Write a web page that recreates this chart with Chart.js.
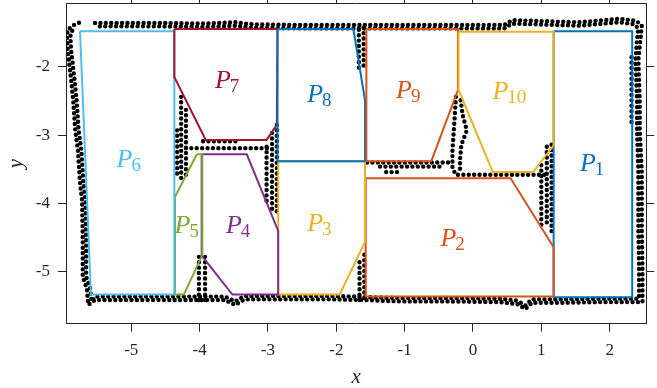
<!DOCTYPE html>
<html>
<head>
<meta charset="utf-8">
<script src="https://cdn.jsdelivr.net/npm/chart.js@4.4.1/dist/chart.umd.min.js"></script>
<style>
  html, body { margin: 0; padding: 0; background: #fff; }
  canvas { display: block; }
</style>
</head>
<body>
<canvas id="roomChart" width="657" height="388"></canvas>
<script>
// ===== AXES =====
let xTicks = [-5, -4, -3, -2, -1, 0, 1, 2];
let yTicks = [-5, -4, -3, -2];
let xRange = [-5.955, 2.536];
let yRange = [-5.756, -1.073];

// ===== ROOM POLYGONS (x, y) =====
let roomNames = ["1", "2", "3", "4", "5", "6", "7", "8", "9", "10"];
let p1 = [[1.18, -1.48], [2.33, -1.48], [2.33, -5.37], [1.18, -5.37]];
let p2 = [[-1.57, -3.63], [0.55, -3.63], [1.18, -4.64], [1.18, -5.36], [-1.57, -5.36]];
let p3 = [[-2.85, -3.38], [-1.58, -3.38], [-1.58, -4.56], [-1.95, -5.33], [-2.85, -5.33]];
let p4 = [[-3.97, -3.28], [-3.31, -3.28], [-2.85, -4.40], [-2.85, -5.33], [-3.52, -5.33], [-3.97, -4.76]];
let p5 = [[-4.04, -3.28], [-3.96, -3.28], [-3.96, -4.75], [-4.23, -5.33], [-4.36, -5.33], [-4.36, -3.90]];
let p6 = [[-5.75, -1.48], [-4.37, -1.48], [-4.37, -5.33], [-5.59, -5.33]];
let p7 = [[-4.37, -1.45], [-2.86, -1.45], [-2.87, -2.85], [-3.02, -3.07], [-3.91, -3.07], [-4.37, -2.15]];
let p8 = [[-2.86, -1.45], [-1.75, -1.45], [-1.58, -2.49], [-1.58, -3.38], [-2.86, -3.38]];
let p9 = [[-1.56, -1.45], [-0.22, -1.45], [-0.22, -2.34], [-0.61, -3.38], [-1.56, -3.38]];
let p10 = [[-0.21, -1.49], [1.18, -1.49], [1.18, -3.15], [0.88, -3.54], [0.29, -3.54], [-0.21, -2.34]];
let rooms = [p1, p2, p3, p4, p5, p6, p7, p8, p9, p10];

// label centres
let labelX = [1.75, -0.29, -2.24, -3.43, -4.18, -5.03, -3.59, -2.24, -0.94, 0.54];
let labelY = [-3.39, -4.49, -4.27, -4.30, -4.30, -3.33, -2.18, -2.39, -2.33, -2.35];

// ===== SCANNED WALL POINTS (traced) =====
// outer band, outside row
let outerWall = [
  [-5.53, -1.36], [-4.58, -1.36], [-3.89, -1.37], [-3.47, -1.35], [-3.26, -1.38], [-2.53, -1.39],
  [-1.73, -1.39], [-0.34, -1.39], [0.46, -1.39], [0.57, -1.32], [1.56, -1.35], [2.14, -1.30],
  [2.39, -1.33], [2.47, -1.40],
  [2.45, -1.61], [2.42, -1.90], [2.44, -2.49], [2.44, -2.93], [2.47, -3.51], [2.47, -4.39],
  [2.48, -4.97], [2.48, -5.44],
  [1.85, -5.44], [1.27, -5.45], [0.86, -5.45], [0.77, -5.54], [0.65, -5.47], [0.39, -5.44],
  [-0.34, -5.43], [-1.07, -5.43], [-1.58, -5.41], [-2.09, -5.40], [-2.53, -5.40], [-3.34, -5.40],
  [-3.48, -5.48], [-3.63, -5.41], [-4.07, -5.41], [-4.73, -5.41], [-5.17, -5.41], [-5.53, -5.41],
  [-5.63, -5.48],
  [-5.65, -5.24], [-5.71, -5.07], [-5.71, -4.53], [-5.72, -3.95], [-5.75, -3.70], [-5.78, -3.22],
  [-5.82, -2.93], [-5.85, -2.49], [-5.88, -2.19], [-5.93, -1.76], [-5.94, -1.55], [-5.93, -1.46],
  [-5.84, -1.39], [-5.75, -1.35]
];
// outer band, inside row
let outerWallB = [
  [-5.50, -1.41], [-4.58, -1.41], [-3.89, -1.42], [-3.47, -1.40], [-3.26, -1.43], [-2.53, -1.44],
  [-1.73, -1.44], [-0.34, -1.44], [0.46, -1.44], [0.57, -1.37], [1.56, -1.40], [2.14, -1.35],
  [2.36, -1.38], [2.42, -1.44],
  [2.40, -1.61], [2.38, -1.90], [2.40, -2.49], [2.40, -2.93], [2.42, -3.51], [2.42, -4.39],
  [2.43, -4.97], [2.43, -5.39],
  [1.85, -5.39], [1.27, -5.40], [0.86, -5.40], [0.77, -5.49], [0.65, -5.42], [0.39, -5.39],
  [-0.34, -5.38], [-1.07, -5.38], [-1.52, -5.37],
  [-1.72, -5.36], [-2.09, -5.35], [-2.53, -5.35], [-3.34, -5.35], [-3.48, -5.43], [-3.63, -5.36],
  [-4.07, -5.36], [-4.73, -5.36], [-5.17, -5.36], [-5.53, -5.36], [-5.58, -5.43],
  [-5.60, -5.24], [-5.66, -5.07], [-5.66, -4.53], [-5.67, -3.95], [-5.70, -3.70], [-5.73, -3.22],
  [-5.77, -2.93], [-5.80, -2.49], [-5.83, -2.19], [-5.88, -1.76], [-5.89, -1.55], [-5.87, -1.48],
  [-5.80, -1.43]
];
let rightInner = [[2.32, -1.86], [2.32, -2.88]];
let spike1a = [[-1.66, -5.41], [-1.66, -4.80]];
let spike1b = [[-1.59, -5.38], [-1.59, -4.71]];
let spike2a = [[-4.01, -5.41], [-4.01, -4.77]];
let spike2b = [[-3.92, -5.41], [-3.92, -4.72]];
let wallA1 = [[-4.33, -2.93], [-4.33, -3.63]];
let wallA2 = [[-4.27, -2.44], [-4.27, -3.63]];
let wallA3 = [[-4.20, -2.63], [-4.20, -3.63]];
let wallB1 = [[-4.20, -3.19], [-3.00, -3.19]];
let wallB2 = [[-3.95, -3.09], [-3.44, -3.09]];
let wallC1 = [[-3.02, -3.17], [-3.02, -4.02]];
let wallC2 = [[-2.94, -2.97], [-2.94, -4.14]];
let wallC3 = [[-2.87, -2.85], [-2.87, -4.14]];
let wallD1 = [[-1.67, -1.46], [-1.67, -2.05]];
let wallD2 = [[-1.60, -1.43], [-1.60, -1.99]];
let wallE1 = [[-1.55, -3.40], [-0.31, -3.40]];
let wallE2 = [[-1.36, -3.46], [-0.49, -3.46]];
let wallE3 = [[-1.27, -3.54], [-1.10, -3.54]];
let wallF1 = [[-0.25, -2.44], [-0.27, -2.78], [-0.30, -3.22], [-0.30, -3.48], [-0.25, -3.58]];
let wallF2 = [[-0.18, -2.49], [-0.15, -2.71], [-0.09, -2.93], [-0.17, -3.14], [-0.19, -3.36], [-0.19, -3.55]];
let wallG = [[-0.22, -3.58], [1.05, -3.58]];
let wallH1 = [[1.00, -3.44], [1.00, -4.31]];
let wallH2 = [[1.08, -3.17], [1.08, -4.35]];
let wallH3 = [[1.15, -3.14], [1.15, -4.42]];
let walls = [outerWall, rightInner, spike1a, spike1b, spike2a, spike2b,
  wallA1, wallA2, wallA3, wallB1, wallB2, wallC1, wallC2, wallC3, wallD1, wallD2,
  wallE1, wallE2, wallE3, wallF1, wallF2, wallG, wallH1, wallH2, wallH3];
let wallsOffset = [outerWallB]; // drawn with shifted dash phase

// ===== STYLE =====
let roomColors = ["#0072BD", "#D95319", "#EDB120", "#7E2F8E", "#77AC30",
  "#4DBEEE", "#A2142F", "#0072BD", "#D95319", "#EDB120"];
let axisColor = "#262626";
let serif = "'Liberation Serif', 'DejaVu Serif', serif";

function pts(arr) {
  return arr.map(p => ({ x: p[0], y: p[1] }));
}

function wallSet(w, phase) {
  return {
    data: pts(w),
    showLine: true,
    borderColor: "#000",
    borderWidth: 4.4,
    borderDash: [0, 5.4],
    borderDashOffset: phase,
    borderCapStyle: "round",
    borderJoinStyle: "round",
    pointRadius: 0,
    fill: false,
    order: 30
  };
}

let datasets = [];

rooms.forEach((r, i) => {
  datasets.push({
    data: pts(r.concat([r[0]])),
    showLine: true,
    borderColor: roomColors[i],
    borderWidth: 2,
    pointRadius: 0,
    fill: false,
    order: 20 - i // later rooms on top
  });
});

walls.forEach(w => datasets.push(wallSet(w, 0)));
wallsOffset.forEach(w => datasets.push(wallSet(w, 2.7)));

// ===== LABELS + AXIS TITLES =====
let textPlugin = {
  id: "textPlugin",
  afterDatasetsDraw(chart) {
    let ctx = chart.ctx;
    let xs = chart.scales.x, ys = chart.scales.y;
    ctx.save();
    roomNames.forEach((n, i) => {
      let px = xs.getPixelForValue(labelX[i]);
      let py = ys.getPixelForValue(labelY[i]);
      ctx.font = "italic 26px " + serif;
      let wP = ctx.measureText("P").width;
      ctx.font = "19px " + serif;
      let wS = ctx.measureText(n).width;
      let left = px - (wP + wS) / 2;
      let base = py + 8.8;
      ctx.fillStyle = roomColors[i];
      ctx.textBaseline = "alphabetic";
      ctx.textAlign = "left";
      ctx.font = "italic 26px " + serif;
      ctx.fillText("P", left, base);
      ctx.font = "19px " + serif;
      ctx.fillText(n, left + wP - 1, base + 4);
    });

    let area = chart.chartArea;
    ctx.fillStyle = axisColor;
    ctx.font = "italic 21px " + serif;
    ctx.textAlign = "center";
    ctx.fillText("x", (area.left + area.right) / 2, 382.5);
    ctx.translate(22, (area.top + area.bottom) / 2);
    ctx.rotate(-Math.PI / 2);
    ctx.fillText("y", 0, 0);
    ctx.restore();
  }
};

function axis(pos, range, ticks, size, showLabels) {
  let horiz = pos === "top" || pos === "bottom";
  return {
    type: "linear",
    position: pos,
    min: range[0],
    max: range[1],
    afterBuildTicks: s => { s.ticks = ticks.map(v => ({ value: v })); },
    afterFit: s => {
      if (horiz) s.height = size; else s.width = size;
      // keep the plot box where the reference has it
      s.paddingTop = 0; s.paddingBottom = 0; s.paddingLeft = 0; s.paddingRight = 0;
    },
    grid: { drawOnChartArea: false, drawTicks: true, tickLength: 8, color: axisColor, lineWidth: 1 },
    border: { display: true, color: axisColor, width: 1 },
    ticks: {
      display: showLabels,
      color: axisColor,
      font: { family: serif, size: 17 },
      padding: horiz ? 9 : 8,
      maxRotation: 0,
      autoSkip: false,
      callback: v => String(v)
    }
  };
}

new Chart(document.getElementById("roomChart"), {
  type: "scatter",
  data: { datasets: datasets },
  options: {
    responsive: false,
    animation: false,
    devicePixelRatio: 1,
    layout: { padding: 0 },
    plugins: { legend: { display: false }, tooltip: { enabled: false } },
    scales: {
      x: axis("bottom", xRange, xTicks, 64.3, true),
      x2: axis("top", xRange, xTicks, 3.3, false),
      y: axis("left", yRange, yTicks, 66, true),
      y2: axis("right", yRange, yTicks, 10.7, false)
    }
  },
  plugins: [textPlugin]
});
</script>
</body>
</html>
